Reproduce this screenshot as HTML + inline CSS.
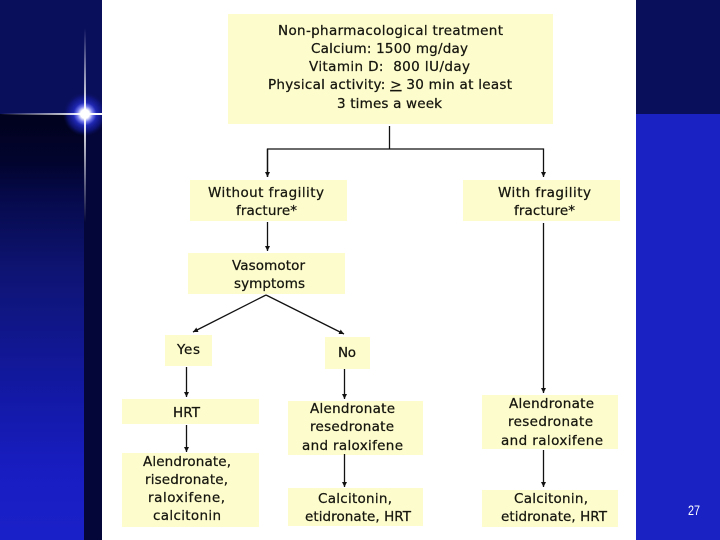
<!DOCTYPE html>
<html>
<head>
<meta charset="utf-8">
<style>
html,body{margin:0;padding:0;background:#fff}
svg{display:block}
text{font-family:"DejaVu Sans","Liberation Sans",sans-serif;font-size:13.5px;fill:#15150f;stroke:#15150f;stroke-width:0.25px;text-anchor:start}
</style>
</head>
<body>
<svg width="720" height="540" viewBox="0 0 720 540" xmlns="http://www.w3.org/2000/svg">
<defs>
<linearGradient id="lg" x1="0" y1="0" x2="0" y2="1">
<stop offset="0" stop-color="#01021c"/>
<stop offset="0.12" stop-color="#020430"/>
<stop offset="0.2" stop-color="#060a4c"/>
<stop offset="0.366" stop-color="#0e1472"/>
<stop offset="0.67" stop-color="#1319a6"/>
<stop offset="0.84" stop-color="#181dc2"/>
<stop offset="1" stop-color="#1a20c8"/>
</linearGradient>
<radialGradient id="glow">
<stop offset="0" stop-color="#fff"/>
<stop offset="0.2" stop-color="#fff"/>
<stop offset="0.36" stop-color="#7278ec"/>
<stop offset="0.52" stop-color="#2028b4"/>
<stop offset="0.8" stop-color="#101684" stop-opacity="0.75"/>
<stop offset="1" stop-color="#0a0f5a" stop-opacity="0"/>
</radialGradient>
<linearGradient id="vt" x1="0" y1="0" x2="0" y2="1">
<stop offset="0" stop-color="#fff" stop-opacity="0"/>
<stop offset="1" stop-color="#fff"/>
</linearGradient>
<linearGradient id="vb" x1="0" y1="0" x2="0" y2="1">
<stop offset="0" stop-color="#fff"/>
<stop offset="1" stop-color="#fff" stop-opacity="0"/>
</linearGradient>
<linearGradient id="hl" x1="0" y1="0" x2="1" y2="0">
<stop offset="0" stop-color="#fff" stop-opacity="0"/>
<stop offset="1" stop-color="#fff"/>
</linearGradient>
<marker id="a" markerWidth="7" markerHeight="6" refX="5" refY="3" orient="auto" markerUnits="userSpaceOnUse">
<path d="M0,0.5 L5,3 L0,5.5 Z" fill="#111"/>
</marker>
<filter id="soft" x="-5%" y="-5%" width="110%" height="110%">
<feGaussianBlur stdDeviation="0.35"/>
</filter>
</defs>

<rect width="720" height="540" fill="#fff"/>
<!-- left band -->
<rect x="0" y="0" width="102" height="114" fill="#0a0f5c"/>
<rect x="0" y="114" width="84" height="426" fill="url(#lg)"/>
<rect x="84" y="114" width="18" height="426" fill="#04063a"/>
<!-- right band -->
<rect x="636" y="0" width="84" height="114" fill="#0a0f5c"/>
<rect x="636" y="114" width="84" height="426" fill="#1a22c4"/>
<!-- star -->
<circle cx="85" cy="114" r="22" fill="url(#glow)"/>
<rect x="84" y="28" width="2" height="86" fill="url(#vt)"/>
<rect x="84" y="114" width="2" height="108" fill="url(#vb)"/>
<rect x="0" y="113" width="85" height="2" fill="url(#hl)"/>
<rect x="85" y="113" width="17" height="2" fill="#fff"/>
<rect x="102" y="0" width="534" height="540" fill="#fff"/>

<!-- boxes -->
<g fill="#fdfccd">
<rect x="228" y="14" width="325" height="110"/>
<rect x="190" y="180" width="157" height="41"/>
<rect x="463" y="180" width="157" height="41"/>
<rect x="188" y="253" width="157" height="41"/>
<rect x="165" y="335" width="47" height="31"/>
<rect x="325" y="337" width="45" height="32"/>
<rect x="122" y="399" width="137" height="25"/>
<rect x="122" y="453" width="137" height="74"/>
<rect x="288" y="401" width="135" height="54"/>
<rect x="288" y="488" width="135" height="38"/>
<rect x="482" y="395" width="136" height="54"/>
<rect x="482" y="490" width="136" height="37"/>
</g>

<!-- connectors -->
<g stroke="#111" stroke-width="1.3" fill="none">
<path d="M389.5 126V149"/>
<path d="M267.5 177V149H543.5V177" marker-end="url(#a)"/>
<path d="M267.5 149V177" marker-end="url(#a)"/>
<path d="M267.5 222V251" marker-end="url(#a)"/>
<path d="M266 295L193 332" marker-end="url(#a)"/>
<path d="M266 295L344 334" marker-end="url(#a)"/>
<path d="M186.5 367V397" marker-end="url(#a)"/>
<path d="M186.5 425V452" marker-end="url(#a)"/>
<path d="M344.5 369V399" marker-end="url(#a)"/>
<path d="M344.5 454V487" marker-end="url(#a)"/>
<path d="M543.5 223V393" marker-end="url(#a)"/>
<path d="M543.5 450V487" marker-end="url(#a)"/>
</g>

<!-- text -->
<g filter="url(#soft)">
<text x="278" y="35" textLength="225" lengthAdjust="spacing">Non-pharmacological treatment</text>
<text x="311" y="53" textLength="157" lengthAdjust="spacing">Calcium: 1500 mg/day</text>
<text x="309" y="71" textLength="161" lengthAdjust="spacing">Vitamin D:&#160;&#160;800 IU/day</text>
<text x="268" y="89" textLength="244" lengthAdjust="spacing">Physical activity: <tspan text-decoration="underline">&gt;</tspan> 30 min at least</text>
<text x="337" y="108" textLength="105" lengthAdjust="spacing">3 times a week</text>

<text x="208" y="197" textLength="116" lengthAdjust="spacing">Without fragility</text>
<text x="236" y="215" textLength="61" lengthAdjust="spacing">fracture*</text>
<text x="498" y="197" textLength="93" lengthAdjust="spacing">With fragility</text>
<text x="514" y="215" textLength="61" lengthAdjust="spacing">fracture*</text>

<text x="232" y="270" textLength="73" lengthAdjust="spacing">Vasomotor</text>
<text x="234" y="288" textLength="71" lengthAdjust="spacing">symptoms</text>

<text x="177" y="354" textLength="23" lengthAdjust="spacing">Yes</text>
<text x="338" y="357" textLength="18" lengthAdjust="spacing">No</text>

<text x="173" y="417" textLength="27" lengthAdjust="spacing">HRT</text>
<text x="143" y="466" textLength="88" lengthAdjust="spacing">Alendronate,</text>
<text x="145" y="484" textLength="83" lengthAdjust="spacing">risedronate,</text>
<text x="148" y="502" textLength="77" lengthAdjust="spacing">raloxifene,</text>
<text x="153" y="520" textLength="68" lengthAdjust="spacing">calcitonin</text>

<text x="310" y="413" textLength="85" lengthAdjust="spacing">Alendronate</text>
<text x="310" y="431" textLength="84" lengthAdjust="spacing">resedronate</text>
<text x="302" y="450" textLength="101" lengthAdjust="spacing">and raloxifene</text>
<text x="318" y="503" textLength="74" lengthAdjust="spacing">Calcitonin,</text>
<text x="305" y="521" textLength="106" lengthAdjust="spacing">etidronate, HRT</text>

<text x="509" y="408" textLength="85" lengthAdjust="spacing">Alendronate</text>
<text x="508" y="426" textLength="85" lengthAdjust="spacing">resedronate</text>
<text x="501" y="445" textLength="102" lengthAdjust="spacing">and raloxifene</text>
<text x="514" y="503" textLength="74" lengthAdjust="spacing">Calcitonin,</text>
<text x="501" y="521" textLength="106" lengthAdjust="spacing">etidronate, HRT</text>
</g>

<text x="688" y="515" textLength="12" lengthAdjust="spacingAndGlyphs" style="font-family:'Liberation Sans',sans-serif;font-size:13.5px;fill:#fff;stroke:none">27</text>
</svg>
</body>
</html>
